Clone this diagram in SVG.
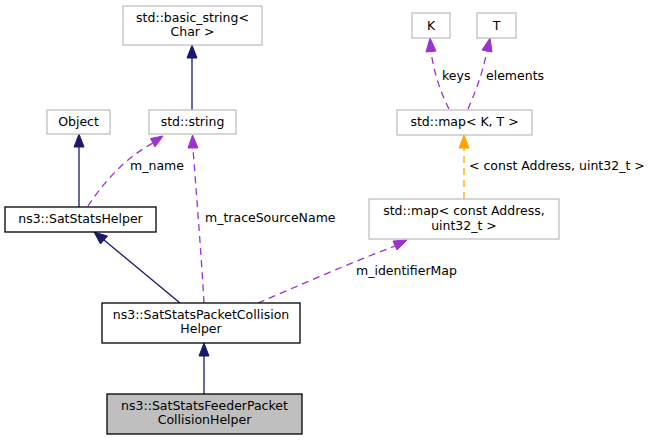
<svg xmlns="http://www.w3.org/2000/svg" width="657" height="440" viewBox="0 0 657 440">
<style>
text{font-family:"DejaVu Sans","Liberation Sans",sans-serif;font-size:12.5px;fill:#000}
.n text{text-anchor:middle}
.ext{fill:#fff;stroke:#bfbfbf;stroke-width:1.3}
.doc{fill:#fff;stroke:#000;stroke-width:1.3}
.cur{fill:#bfbfbf;stroke:#000;stroke-width:1.3}
.inh{fill:none;stroke:#191970;stroke-width:1.3}
.use{fill:none;stroke:#9a32cd;stroke-width:1.3;stroke-dasharray:7,5}
.tpl{fill:none;stroke:#ffa500;stroke-width:1.3;stroke-dasharray:7,5}
.ah-i{fill:#191970;stroke:#191970}
.ah-u{fill:#9a32cd;stroke:#9a32cd}
.ah-t{fill:#ffa500;stroke:#ffa500}
</style>
<rect width="657" height="440" fill="#fff"/>
<g id="edges">
<path class="inh" d="M192,110 V58"/><polygon class="ah-i" points="187,58 192,45 197,58"/>
<path class="inh" d="M79,207 V147"/><polygon class="ah-i" points="74,147 79,134 84,147"/>
<path class="inh" d="M180,303 L104,240"/><polygon class="ah-i" points="100.5,244 94,232 107.5,236"/>
<path class="inh" d="M204,394 V356"/><polygon class="ah-i" points="199,356 204,343 209,356"/>
<path class="use" d="M88,206 C103,183 125,158 153,143"/><polygon class="ah-u" points="150.5,138.5 163,136 155,147"/>
<path class="use" d="M204,303 C201,250 196,190 193,148"/><polygon class="ah-u" points="188,148 192.5,135 198,148"/>
<path class="use" d="M258,303 C300,285 350,263 395,246"/><polygon class="ah-u" points="393,241 407,240 397,250"/>
<path class="use" d="M449,109 C442,95 434,75 431,51"/><polygon class="ah-u" points="426,52 430,38 436,51"/>
<path class="use" d="M468,109 C474,95 482,76 487,51"/><polygon class="ah-u" points="482,50 490,38 492,52"/>
<path class="tpl" d="M464,199 V148"/><polygon class="ah-t" points="459,148 464,135 469,148"/>
<text x="157" y="170" text-anchor="middle">m_name</text>
<text x="205" y="222">m_traceSourceName</text>
<text x="356" y="275">m_identifierMap</text>
<text x="469" y="170">&lt; const Address, uint32_t &gt;</text>
<text x="442" y="80">keys</text>
<text x="486" y="80">elements</text>
</g>
<g id="basic_string" class="n"><rect class="ext" x="123" y="6" width="139" height="39"/><text x="192.5" y="21.5">std::basic_string&lt;</text><text x="192.5" y="36">Char &gt;</text></g>
<g id="object" class="n"><rect class="ext" x="47" y="110" width="63" height="24"/><text x="78.5" y="126">Object</text></g>
<g id="string" class="n"><rect class="ext" x="149" y="110" width="87" height="24"/><text x="192.5" y="126">std::string</text></g>
<g id="K" class="n"><rect class="ext" x="412" y="13" width="38" height="25"/><text x="431" y="30">K</text></g>
<g id="T" class="n"><rect class="ext" x="477" y="13" width="39" height="25"/><text x="496.5" y="30">T</text></g>
<g id="map_kt" class="n"><rect class="ext" x="397" y="110" width="135" height="25"/><text x="464.5" y="126">std::map&lt; K, T &gt;</text></g>
<g id="map_addr" class="n"><rect class="ext" x="369" y="199" width="190" height="40"/><text x="464" y="215">std::map&lt; const Address,</text><text x="464" y="229.5">uint32_t &gt;</text></g>
<g id="helper" class="n"><rect class="doc" x="5" y="207" width="151" height="25"/><text x="80.5" y="223">ns3::SatStatsHelper</text></g>
<g id="packet" class="n"><rect class="doc" x="102" y="303" width="198" height="40"/><text x="201" y="318.5">ns3::SatStatsPacketCollision</text><text x="201" y="333">Helper</text></g>
<g id="feeder" class="n"><rect class="cur" x="107" y="394" width="195" height="40"/><text x="204.5" y="409.5">ns3::SatStatsFeederPacket</text><text x="204.5" y="424">CollisionHelper</text></g>
</svg>
